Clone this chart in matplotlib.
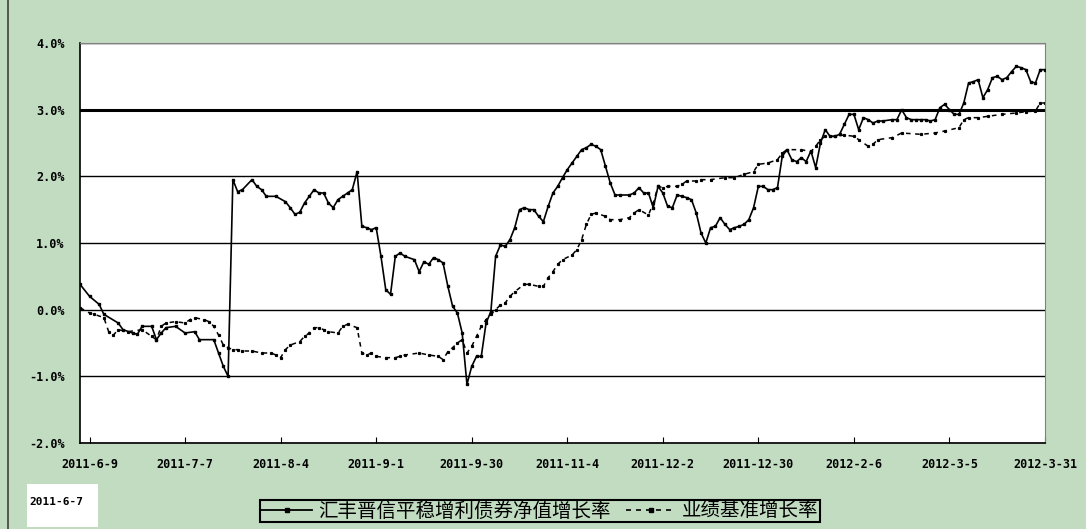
import matplotlib
matplotlib.use("Agg")
import matplotlib.pyplot as plt
from matplotlib.lines import Line2D
from matplotlib.patches import Rectangle

# trading day index (0 = 2011-6-7) and cumulative growth, in %
fund_days = [0, 2, 4, 5, 8, 9, 11, 12, 13, 15,
             16, 17, 18, 20, 22, 24, 25, 28, 29, 30,
             31, 32, 33, 34, 36, 37, 38, 39, 41, 43,
             44, 45, 46, 47, 48, 49, 50, 51, 52, 53,
             54, 55, 56, 57, 58, 59, 60, 61, 62, 63,
             64, 65, 66, 67, 68, 70, 71, 72, 73, 74,
             75, 76, 77, 78, 79, 80, 81, 82, 83, 84,
             85, 86, 87, 88, 89, 90, 91, 92, 93, 94,
             95, 96, 97, 98, 99, 100, 101, 102, 103, 104,
             105, 106, 107, 108, 109, 110, 111, 112, 113, 115,
             116, 117, 118, 119, 120, 121, 122, 123, 124, 125,
             126, 127, 128, 129, 130, 131, 132, 133, 134, 135,
             136, 137, 138, 139, 140, 141, 142, 143, 144, 145,
             146, 147, 148, 149, 150, 151, 152, 153, 154, 155,
             156, 157, 158, 159, 160, 161, 162, 163, 164, 165,
             166, 167, 168, 170, 171, 172, 173, 174, 175, 176,
             177, 178, 179, 180, 181, 182, 183, 184, 185, 186,
             187, 188, 189, 190, 191, 192, 193, 194, 195, 196,
             197, 198, 199, 200, 201, 202]
fund_vals = [0.38, 0.20, 0.08, -0.07, -0.20, -0.30, -0.35, -0.37, -0.25, -0.25,
             -0.45, -0.35, -0.27, -0.25, -0.35, -0.33, -0.45, -0.45, -0.65, -0.85,
             -1.00, 1.95, 1.77, 1.80, 1.95, 1.85, 1.80, 1.70, 1.70, 1.62,
             1.53, 1.43, 1.46, 1.60, 1.70, 1.80, 1.75, 1.75, 1.60, 1.53,
             1.65, 1.70, 1.75, 1.80, 2.07, 1.25, 1.23, 1.20, 1.23, 0.80,
             0.30, 0.23, 0.80, 0.85, 0.80, 0.75, 0.57, 0.72, 0.68, 0.78,
             0.75, 0.70, 0.35, 0.05, -0.05, -0.35, -1.12, -0.85, -0.70, -0.70,
             -0.20, -0.03, 0.80, 0.97, 0.95, 1.05, 1.23, 1.50, 1.53, 1.50,
             1.50, 1.40, 1.32, 1.55, 1.75, 1.85, 1.98, 2.10, 2.20, 2.30,
             2.40, 2.43, 2.48, 2.45, 2.40, 2.15, 1.90, 1.72, 1.72, 1.72,
             1.75, 1.83, 1.75, 1.75, 1.53, 1.85, 1.75, 1.55, 1.53, 1.72,
             1.70, 1.68, 1.65, 1.45, 1.15, 1.00, 1.23, 1.25, 1.38, 1.28,
             1.20, 1.23, 1.25, 1.28, 1.35, 1.53, 1.85, 1.85, 1.80, 1.80,
             1.83, 2.30, 2.40, 2.25, 2.22, 2.28, 2.22, 2.38, 2.13, 2.50,
             2.70, 2.60, 2.60, 2.63, 2.78, 2.93, 2.93, 2.70, 2.88, 2.85,
             2.80, 2.83, 2.83, 2.85, 2.85, 3.00, 2.88, 2.85, 2.85, 2.85,
             2.85, 2.83, 2.85, 3.03, 3.08, 3.00, 2.93, 2.93, 3.10, 3.40,
             3.42, 3.45, 3.18, 3.30, 3.48, 3.50, 3.45, 3.48, 3.57, 3.65,
             3.63, 3.60, 3.42, 3.40, 3.60, 3.60]

bench_days = [0, 2, 3, 5, 6, 7, 8, 10, 13, 15,
              16, 17, 18, 20, 22, 23, 24, 26, 27, 28,
              29, 30, 31, 32, 33, 34, 36, 38, 40, 41,
              42, 43, 44, 46, 47, 48, 49, 50, 51, 52,
              54, 55, 56, 58, 59, 60, 61, 62, 64, 66,
              67, 68, 71, 73, 75, 76, 77, 78, 79, 80,
              81, 82, 83, 84, 85, 86, 87, 88, 89, 90,
              91, 93, 94, 96, 97, 98, 99, 100, 101, 103,
              104, 105, 106, 107, 108, 110, 111, 113, 115, 116,
              117, 119, 120, 121, 122, 123, 125, 126, 127, 129,
              130, 132, 135, 137, 139, 141, 142, 144, 146, 147,
              148, 151, 153, 154, 155, 156, 158, 160, 162, 163,
              165, 166, 167, 170, 172, 176, 179, 181, 184, 185,
              186, 188, 190, 193, 196, 198, 200, 201, 202]
bench_vals = [0.03, -0.05, -0.07, -0.12, -0.33, -0.38, -0.30, -0.33, -0.30, -0.40,
              -0.45, -0.25, -0.20, -0.18, -0.20, -0.15, -0.12, -0.15, -0.18, -0.25,
              -0.38, -0.53, -0.57, -0.60, -0.60, -0.62, -0.62, -0.65, -0.65, -0.68,
              -0.72, -0.60, -0.53, -0.48, -0.40, -0.35, -0.27, -0.27, -0.30, -0.33,
              -0.35, -0.25, -0.22, -0.27, -0.65, -0.68, -0.65, -0.70, -0.72, -0.72,
              -0.70, -0.68, -0.65, -0.68, -0.70, -0.75, -0.63, -0.57, -0.50, -0.45,
              -0.65, -0.55, -0.40, -0.25, -0.15, -0.07, 0.00, 0.07, 0.10, 0.20,
              0.27, 0.38, 0.38, 0.35, 0.35, 0.48, 0.57, 0.68, 0.75, 0.82,
              0.90, 1.05, 1.28, 1.43, 1.45, 1.40, 1.35, 1.35, 1.38, 1.45,
              1.50, 1.42, 1.60, 1.85, 1.83, 1.85, 1.85, 1.88, 1.93, 1.93,
              1.95, 1.95, 1.98, 1.98, 2.03, 2.07, 2.18, 2.20, 2.25, 2.35,
              2.40, 2.40, 2.37, 2.45, 2.55, 2.60, 2.60, 2.62, 2.60, 2.55,
              2.45, 2.48, 2.55, 2.58, 2.65, 2.63, 2.65, 2.68, 2.73, 2.85,
              2.88, 2.88, 2.90, 2.93, 2.95, 2.97, 2.98, 3.10, 3.10]

tick_days = [2, 22, 42, 62, 82, 102, 122, 142, 162, 182, 202]
tick_labels = ["2011-6-9", "2011-7-7", "2011-8-4", "2011-9-1", "2011-9-30",
               "2011-11-4", "2011-12-2", "2011-12-30", "2012-2-6", "2012-3-5",
               "2012-3-31"]
y_ticks = [-2, -1, 0, 1, 2, 3, 4]
start_label = "2011-6-7"
fund_name = "汇丰晋信平稳增利债券净值增长率"
bench_name = "业绩基准增长率"

green = "#c2dcc2"
W, H = 1086, 529

fig = plt.figure(figsize=(W / 100, H / 100), dpi=100)
fig.patch.set_facecolor(green)
ax = fig.add_axes([80 / W, 1 - 443 / H, 965 / W, 400 / H])
ax.set_facecolor("white")

# grid lines, the 3% one is drawn heavier in the original
for y in y_ticks:
    ax.axhline(y, color="black", lw=2.2 if y == 3 else 1.0, zorder=1)

ax.plot(fund_days, fund_vals, color="black", lw=1.2, marker="s", ms=1.6,
        zorder=3)
ax.plot(bench_days, bench_vals, color="black", lw=1.1, ls=(0, (3, 3)),
        marker="s", ms=1.3, zorder=2)

ax.set_xlim(0, 202)
ax.set_ylim(-2, 4)
ax.set_yticks(y_ticks)
ax.set_yticklabels(["%.1f%%" % v for v in y_ticks],
                   family="DejaVu Sans Mono", fontsize=8.5, weight="bold")
ax.set_xticks(tick_days)
ax.set_xticklabels(tick_labels, family="DejaVu Sans Mono", fontsize=8.5,
                   weight="bold")
ax.tick_params(axis="y", length=0, pad=11)
ax.tick_params(axis="x", direction="in", length=4, pad=11)

for s in ["left", "bottom"]:
    ax.spines[s].set_color("black")
    ax.spines[s].set_linewidth(1.2)
for s in ["top", "right"]:
    ax.spines[s].set_color("#808080")
    ax.spines[s].set_linewidth(0.8)

# outer frame line on the left
fig.add_artist(Line2D([8 / W, 8 / W], [0, 1], color="#404040", lw=1.2))

# start date box
fig.add_artist(Rectangle((27 / W, 2 / H), 71 / W, 43 / H, facecolor="white",
                         edgecolor="none"))
fig.text(29 / W, 1 - 502 / H, start_label, family="DejaVu Sans Mono",
         fontsize=8, weight="bold", va="center")

handles = [Line2D([], [], color="black", lw=1.3, marker="s", ms=3),
           Line2D([], [], color="black", lw=1.2, ls=(0, (3, 3)), marker="s",
                  ms=3)]
leg = fig.legend(handles, [fund_name, bench_name], loc="center",
                 bbox_to_anchor=(540 / W, 1 - 511 / H), ncol=2,
                 prop={"family": ["Noto Sans CJK SC", "DejaVu Sans"],
                       "size": 14},
                 frameon=True, fancybox=False, facecolor=green,
                 edgecolor="black", framealpha=1, handlelength=2.6,
                 handletextpad=0.3, columnspacing=0.8, borderpad=0.05,
                 borderaxespad=0)
leg.get_frame().set_linewidth(1.5)

fig.savefig("out.png", dpi=100, facecolor=green)
